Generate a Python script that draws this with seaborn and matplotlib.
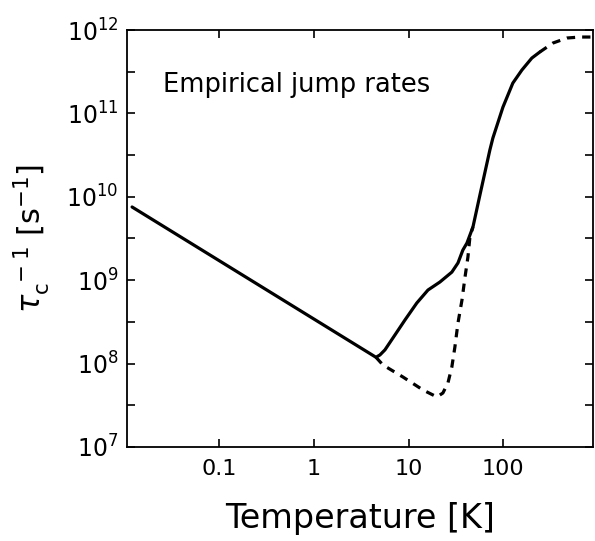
import numpy as np
import pandas as pd
import matplotlib
matplotlib.use("Agg")
import matplotlib.pyplot as plt
import matplotlib.ticker as mticker
import seaborn as sns

# ---- data (Temperature [K], rate [s^-1]) ----
solid_T = [0.012, 4.52, 4.98, 5.62, 7.16, 9.14, 12.2, 16.0, 21.4, 28.6, 33.2,
           37.4, 41.3, 47.8, 56.6, 72.1, 77.6, 99.1, 126, 157, 200, 243]
solid_R = [7.55e9, 1.19e8, 1.27e8, 1.46e8, 2.20e8, 3.33e8, 5.33e8, 7.62e8,
           9.51e8, 1.25e9, 1.61e9, 2.30e9, 2.79e9, 4.35e9, 1.05e10, 3.64e10,
           5.07e10, 1.19e11, 2.31e11, 3.31e11, 4.61e11, 5.45e11]

low_T = [4.52, 5.36, 8.71, 14.2, 19.9, 23.0, 26.0, 28.6, 30.8, 33.2, 36.6,
         39.4, 42.3, 44.4, 47.8]
low_R = [1.19e8, 9.62e7, 6.90e7, 4.82e7, 3.98e7, 4.44e7, 5.85e7, 9.10e7,
         1.58e8, 3.07e8, 5.79e8, 1.09e9, 1.90e9, 3.30e9, 4.35e9]

top_T = [243, 334, 470, 644, 885]
top_R = [5.45e11, 6.98e11, 8.02e11, 8.24e11, 8.24e11]

x_ticks = [0.1, 1, 10, 100]
x_ticklabels = ["0.1", "1", "10", "100"]
y_exponents = [7, 8, 9, 10, 11, 12]

sns.set_style("ticks")
plt.rcParams['font.family'] = ['DejaVu Sans']
plt.rcParams['mathtext.fontset'] = 'dejavusans'
plt.rcParams['text.color'] = 'black'
plt.rcParams['axes.labelcolor'] = 'black'
plt.rcParams['xtick.color'] = 'black'
plt.rcParams['ytick.color'] = 'black'

fig = plt.figure(figsize=(5.95, 5.41), dpi=100)
ax = fig.add_axes([0.2134, 0.1738, 0.7832, 0.7707])

df_solid = pd.DataFrame({"T": solid_T, "R": solid_R})
df_low = pd.DataFrame({"T": low_T, "R": low_R})
df_top = pd.DataFrame({"T": top_T, "R": top_R})

sns.lineplot(data=df_solid, x="T", y="R", ax=ax, sort=False, estimator=None,
             color="black", lw=2.3)
sns.lineplot(data=df_low, x="T", y="R", ax=ax, sort=False, estimator=None,
             color="black", lw=2.3, linestyle=(0, (2.6, 2.2)))
sns.lineplot(data=df_top, x="T", y="R", ax=ax, sort=False, estimator=None,
             color="black", lw=2.3, linestyle=(0, (2.6, 2.2)))

ax.set_xscale("log")
ax.set_yscale("log")
ax.set_xlim(0.0106, 885)
ax.set_ylim(1e7, 1e12)

ax.xaxis.set_major_locator(mticker.FixedLocator(x_ticks))
ax.xaxis.set_major_formatter(mticker.FixedFormatter(x_ticklabels))
ax.xaxis.set_minor_locator(mticker.NullLocator())

ax.yaxis.set_major_locator(mticker.FixedLocator([10.0 ** e for e in y_exponents]))
ax.yaxis.set_major_formatter(mticker.FixedFormatter([r"$10^{%d}$" % e for e in y_exponents]))
ax.yaxis.set_minor_locator(mticker.FixedLocator([10.0 ** (e + 0.5) for e in y_exponents[:-1]]))
ax.yaxis.set_minor_formatter(mticker.NullFormatter())

for s in ax.spines.values():
    s.set_linewidth(1.3)
    s.set_color("black")

ax.tick_params(axis="both", which="both", direction="in", top=True, right=True,
               length=6, width=1.2, color="black")
ax.tick_params(axis="x", labelsize=16, pad=9)
ax.tick_params(axis="y", labelsize=17, pad=6)

ax.set_xlabel("Temperature [K]", fontsize=24, labelpad=16)
ax.set_ylabel(r"$\tau_{\rm c}^{\ -1}\ [\mathrm{s}^{-1}]$", fontsize=22, labelpad=10)

ax.text(0.077, 0.851, "Empirical jump rates", transform=ax.transAxes,
        fontsize=18.5, ha="left", va="baseline")

fig.savefig("out.png", dpi=100)
